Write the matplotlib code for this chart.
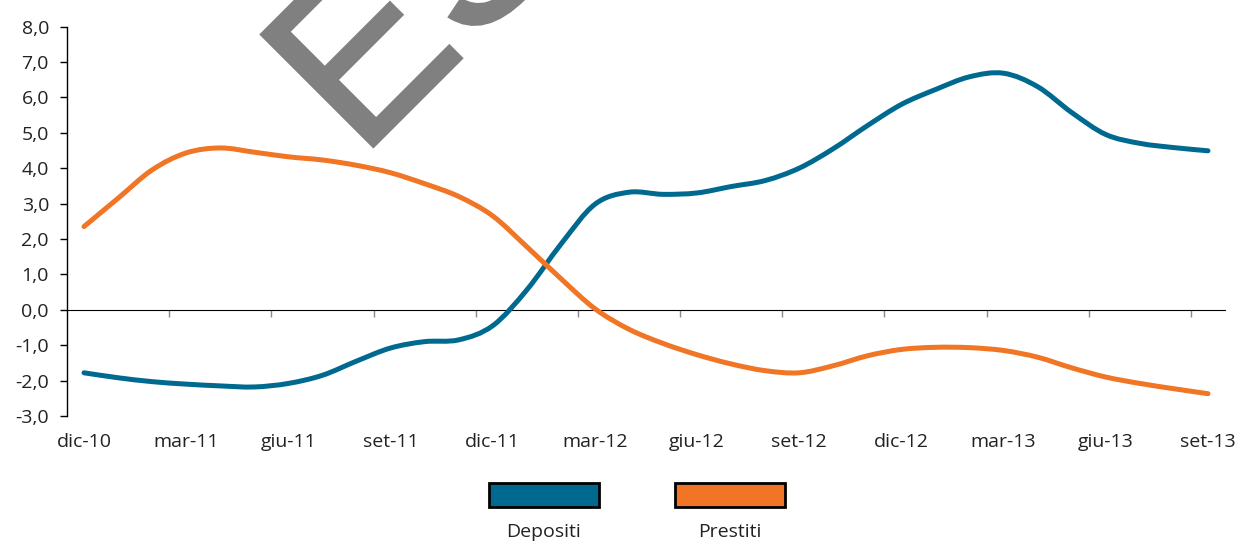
import numpy as np
import matplotlib
matplotlib.use('Agg')
import matplotlib.pyplot as plt
from matplotlib.patches import Rectangle, PathPatch
from matplotlib.path import Path
import matplotlib.patheffects as pe

plt.rcParams['font.family'] = ['Open Sans', 'DejaVu Sans']

# monthly data dic-10 .. set-13
months = ['dic-10', 'gen-11', 'feb-11', 'mar-11', 'apr-11', 'mag-11', 'giu-11', 'lug-11', 'ago-11',
          'set-11', 'ott-11', 'nov-11', 'dic-11', 'gen-12', 'feb-12', 'mar-12', 'apr-12', 'mag-12',
          'giu-12', 'lug-12', 'ago-12', 'set-12', 'ott-12', 'nov-12', 'dic-12', 'gen-13', 'feb-13',
          'mar-13', 'apr-13', 'mag-13', 'giu-13', 'lug-13', 'ago-13', 'set-13']
depositi = [-1.78, -1.92, -2.03, -2.10, -2.15, -2.18, -2.08, -1.85, -1.45, -1.08, -0.90, -0.85,
            -0.45, 0.56, 1.85, 2.98, 3.32, 3.26, 3.30, 3.48, 3.65, 4.00, 4.55, 5.20,
            5.80, 6.22, 6.58, 6.68, 6.30, 5.57, 4.95, 4.70, 4.58, 4.49]
prestiti = [2.35, 3.15, 3.95, 4.43, 4.57, 4.45, 4.32, 4.23, 4.08, 3.87, 3.56, 3.20,
            2.65, 1.78, 0.88, 0.03, -0.55, -0.95, -1.27, -1.53, -1.72, -1.78, -1.58, -1.30,
            -1.12, -1.06, -1.07, -1.15, -1.34, -1.64, -1.90, -2.08, -2.23, -2.37]
series_names = ['Depositi', 'Prestiti']
colors = ['#00698F', '#F07524']

x = np.arange(len(months))


def smooth_path(xs, ys):
    # Excel-style smoothed line: cubic Bezier through the points
    p = np.column_stack([xs, ys]).astype(float)
    pp = np.vstack([p[0], p, p[-1]])
    verts = [p[0]]
    codes = [Path.MOVETO]
    for i in range(len(p) - 1):
        c1 = pp[i + 1] + (pp[i + 2] - pp[i]) / 6
        c2 = pp[i + 2] - (pp[i + 3] - pp[i + 1]) / 6
        verts += [c1, c2, p[i + 1]]
        codes += [Path.CURVE4] * 3
    return Path(verts, codes)


fig = plt.figure(figsize=(12.36, 5.42), dpi=100)
ax = fig.add_axes([67 / 1236, 1 - 416 / 542, (1225 - 67) / 1236, (416 - 26.5) / 542])

for vals, c in zip([depositi, prestiti], colors):
    ax.add_patch(PathPatch(smooth_path(x, vals), facecolor='none', edgecolor=c, linewidth=3.6,
                           capstyle='round', joinstyle='round', zorder=3))

ax.set_xlim(-0.5, len(months) - 0.5)
ax.set_ylim(-3, 8)
ax.set_yticks(np.arange(-3, 9, 1))
ax.set_yticklabels([f'{v:.1f}'.replace('.', ',') for v in np.arange(-3, 9, 1)], fontsize=14, color='#222222')
ax.tick_params(axis='y', direction='out', length=5, width=1, pad=8)

for s in ['top', 'right']:
    ax.spines[s].set_visible(False)
ax.spines['bottom'].set_position(('data', 0))
ax.spines['left'].set_linewidth(1)

# major ticks at category boundaries, labels on minor ticks at centres
ax.set_xticks(np.arange(2.5, len(months) - 0.5, 3))
ax.set_xticklabels([])
ax.tick_params(axis='x', which='major', direction='out', length=5, width=1, color='#888888')
ax.set_xticks(x[::3], minor=True)
ax.set_xticklabels(months[::3], minor=True, fontsize=14, color='#222222')
ax.tick_params(axis='x', which='minor', length=0, pad=89)

# legend: boxes with labels underneath
for i, (name, c) in enumerate(zip(series_names, colors)):
    x0 = (489 + i * 186) / 1236
    fig.add_artist(Rectangle((x0, 1 - 507 / 542), 110 / 1236, 24 / 542, transform=fig.transFigure,
                             facecolor=c, edgecolor='black', linewidth=2))
    fig.text(x0 + 55 / 1236, 1 - 532 / 542, name, ha='center', va='center', fontsize=14, color='#222222')

# watermark
fig.text(360 / 1236, 1 - 160 / 542, 'ESEMPIO', rotation=45, rotation_mode='anchor',
         ha='left', va='baseline', fontsize=166, color='#808080', family='Liberation Sans', zorder=5,
         path_effects=[pe.Stroke(linewidth=2, foreground='#808080', joinstyle='miter'), pe.Normal()])

fig.savefig('out.png', dpi=100)
